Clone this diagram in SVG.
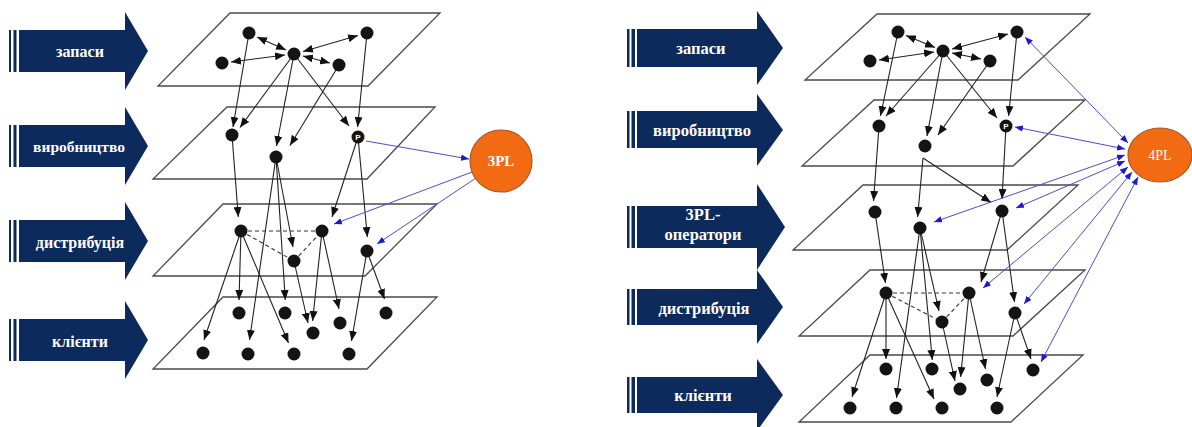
<svg xmlns="http://www.w3.org/2000/svg" width="1192" height="427" viewBox="0 0 1192 427">
<defs>
<marker id="ah" viewBox="0 0 10 8" refX="10" refY="4" markerWidth="10" markerHeight="8" markerUnits="userSpaceOnUse" orient="auto-start-reverse"><path d="M0,0 L10,4 L0,8 z" fill="#111"/></marker>
<marker id="bh" viewBox="0 0 10 8" refX="10" refY="4" markerWidth="8" markerHeight="6.5" markerUnits="userSpaceOnUse" orient="auto-start-reverse"><path d="M0,0 L10,4 L0,8 z" fill="#1a1ad8"/></marker>
<style>
.band{fill:#0c2a5c}
.lbl{font-family:"Liberation Serif","DejaVu Serif",serif;font-weight:bold;fill:#fff;text-anchor:middle;dominant-baseline:central}
.pl{fill:none;stroke:#4a4a4a;stroke-width:1.3}
.c{stroke:#222;stroke-width:1.1;fill:none;marker-end:url(#ah)}
.d{stroke:#222;stroke-width:1.1;fill:none;marker-start:url(#ah);marker-end:url(#ah)}
.ds{stroke:#333;stroke-width:1.1;fill:none;stroke-dasharray:4 3}
.b{stroke:#4b4bd0;stroke-width:1;fill:none;marker-end:url(#bh)}
.bb{stroke:#4b4bd0;stroke-width:1;fill:none;marker-start:url(#bh);marker-end:url(#bh)}
.n{fill:#141414}
.pn{font-family:"Liberation Sans",Arial,sans-serif;font-size:8px;font-weight:bold;fill:#fff;text-anchor:middle;dominant-baseline:central}
.hub{fill:#f26a12;stroke:#a55a2a;stroke-width:1.2}
.hubt{font-family:"Liberation Serif","DejaVu Serif",serif;fill:#fff;text-anchor:middle;dominant-baseline:central}
</style>
</defs>

<!-- LEFT level arrows -->
<g id="L-arrow-zapasy">
<rect class="band" x="9" y="30" width="2" height="42"/><rect class="band" x="13.5" y="30" width="3" height="42"/>
<polygon class="band" points="19,30 125,30 125,12 148,51 125,90 125,72 19,72"/>
<text class="lbl" x="80" y="51" font-size="16">запаси</text>
</g>
<g id="L-arrow-vyrob">
<rect class="band" x="9" y="125" width="2" height="42"/><rect class="band" x="13.5" y="125" width="3" height="42"/>
<polygon class="band" points="19,125 125,125 125,107 148,146 125,185 125,167 19,167"/>
<text class="lbl" x="79" y="146" font-size="15.5">виробництво</text>
</g>
<g id="L-arrow-dystr">
<rect class="band" x="9" y="220" width="2" height="42"/><rect class="band" x="13.5" y="220" width="3" height="42"/>
<polygon class="band" points="19,220 125,220 125,202 148,241 125,280 125,262 19,262"/>
<text class="lbl" x="80" y="242" font-size="16">дистрибуція</text>
</g>
<g id="L-arrow-klienty">
<rect class="band" x="9" y="319" width="2" height="42"/><rect class="band" x="13.5" y="319" width="3" height="42"/>
<polygon class="band" points="19,319 125,319 125,301 148,340 125,379 125,361 19,361"/>
<text class="lbl" x="80" y="341" font-size="16">клієнти</text>
</g>

<!-- LEFT planes -->
<g id="L-planes">
<polygon class="pl" points="230,13 440,13 368,86 158,86"/>
<polygon class="pl" points="227,107 435,107 367,179 153,179"/>
<polygon class="pl" points="223,204 437,204 365,276 153,276"/>
<polygon class="pl" points="223,297 437,297 367,369 153,369"/>
</g>

<!-- RIGHT level arrows -->
<g id="R-arrow-zapasy">
<rect class="band" x="627" y="29" width="2.5" height="38"/><rect class="band" x="631.5" y="29" width="3.5" height="38"/>
<polygon class="band" points="637,29 757,29 757,11 783,48 757,85 757,67 637,67"/>
<text class="lbl" x="701" y="48" font-size="16.5">запаси</text>
</g>
<g id="R-arrow-vyrob">
<rect class="band" x="627" y="111" width="2.5" height="37"/><rect class="band" x="631.5" y="111" width="3.5" height="37"/>
<polygon class="band" points="637,111 757,111 757,94 783,130 757,166 757,148 637,148"/>
<text class="lbl" x="702" y="130" font-size="16.5">виробництво</text>
</g>
<g id="R-arrow-3pl">
<rect class="band" x="627" y="206" width="2.5" height="42"/><rect class="band" x="631.5" y="206" width="3.5" height="42"/>
<polygon class="band" points="637,206 757,206 757,184 785,227 757,270 757,248 637,248"/>
<text class="lbl" x="703" y="214" font-size="16.5">3PL-</text>
<text class="lbl" x="703" y="234" font-size="16.5">оператори</text>
</g>
<g id="R-arrow-dystr">
<rect class="band" x="627" y="289" width="2.5" height="36"/><rect class="band" x="631.5" y="289" width="3.5" height="36"/>
<polygon class="band" points="637,289 757,289 757,270 783,307 757,344 757,325 637,325"/>
<text class="lbl" x="704" y="308" font-size="16.5">дистрибуція</text>
</g>
<g id="R-arrow-klienty">
<rect class="band" x="627" y="377" width="2.5" height="36"/><rect class="band" x="631.5" y="377" width="3.5" height="36"/>
<polygon class="band" points="637,377 757,377 757,359 783,395 757,431 757,413 637,413"/>
<text class="lbl" x="703" y="395" font-size="16.5">клієнти</text>
</g>

<!-- RIGHT planes -->
<g id="R-planes">
<polygon class="pl" points="877,14 1090,14 1018,80 805,80"/>
<polygon class="pl" points="874,100 1085,100 1013,166 802,166"/>
<polygon class="pl" points="863,185 1078,185 1007,250 793,250"/>
<polygon class="pl" points="870,270 1085,270 1013,336 799,336"/>
<polygon class="pl" points="870,355 1083,355 1011,422 799,422"/>
</g>

<!-- connectors -->
<g id="connectors">
<!-- left: stocks -->
<line class="d" x1="257" y1="37" x2="286" y2="50"/>
<line class="d" x1="358" y1="35.5" x2="303" y2="51.5"/>
<line class="d" x1="231" y1="62" x2="285" y2="55"/>
<line class="d" x1="330" y1="63" x2="303" y2="56"/>
<line class="c" x1="249" y1="33" x2="233" y2="127"/>
<line class="c" x1="294" y1="54" x2="240" y2="127.5"/>
<line class="c" x1="294" y1="54" x2="276.5" y2="146"/>
<line class="c" x1="339" y1="65" x2="290" y2="145.5"/>
<line class="c" x1="294" y1="54" x2="349" y2="126"/>
<line class="c" x1="367" y1="33" x2="357.6" y2="127"/>
<!-- left: production to distribution -->
<line class="c" x1="232" y1="135" x2="238.3" y2="217"/>
<line class="c" x1="276" y1="157" x2="293" y2="247"/>
<line class="c" x1="276" y1="157" x2="285.3" y2="300"/>
<line class="c" x1="276" y1="157" x2="249.5" y2="340"/>
<line class="c" x1="358" y1="137" x2="332" y2="217"/>
<line class="c" x1="358" y1="137" x2="367.4" y2="237"/>
<!-- left: distribution -->
<line class="ds" x1="241" y1="231" x2="322" y2="231"/>
<line class="ds" x1="241" y1="231" x2="294" y2="261"/>
<line class="ds" x1="294" y1="261" x2="322" y2="231"/>
<line class="c" x1="241" y1="231" x2="239" y2="300"/>
<line class="c" x1="241" y1="231" x2="204" y2="340"/>
<line class="c" x1="241" y1="231" x2="288.5" y2="343"/>
<line class="c" x1="294" y1="261" x2="308" y2="323"/>
<line class="c" x1="322" y1="231" x2="312.6" y2="321"/>
<line class="c" x1="322" y1="231" x2="339" y2="309"/>
<line class="c" x1="367" y1="251" x2="351.5" y2="341"/>
<line class="c" x1="367" y1="251" x2="384.5" y2="299"/>
<!-- left: 3PL -->
<line class="b" x1="366" y1="141" x2="469" y2="159"/>
<line class="b" x1="472" y1="172" x2="334" y2="224"/>
<line class="b" x1="476" y1="178" x2="377" y2="244"/>

<!-- right: stocks -->
<line class="d" x1="906" y1="35.5" x2="935" y2="47.5"/>
<line class="d" x1="1008" y1="34" x2="952" y2="49"/>
<line class="d" x1="879" y1="60" x2="934" y2="52"/>
<line class="d" x1="981" y1="59" x2="952" y2="53"/>
<line class="c" x1="898" y1="32" x2="880.5" y2="116"/>
<line class="c" x1="943" y1="51" x2="886" y2="116"/>
<line class="c" x1="943" y1="51" x2="927" y2="136"/>
<line class="c" x1="990" y1="61" x2="938" y2="135"/>
<line class="c" x1="943" y1="51" x2="997" y2="118"/>
<line class="c" x1="1017" y1="32" x2="1008.6" y2="116"/>
<!-- right: production to 3PL operators -->
<line class="c" x1="879" y1="126" x2="873.5" y2="201"/>
<line class="c" x1="923" y1="158" x2="917.6" y2="217"/>
<line class="c" x1="923" y1="158" x2="991" y2="202.5"/>
<line class="c" x1="1006" y1="126" x2="1002" y2="199"/>
<!-- right: operators to distribution / clients -->
<line class="c" x1="875" y1="212" x2="885.5" y2="283"/>
<line class="c" x1="920" y1="228" x2="939" y2="311"/>
<line class="c" x1="920" y1="228" x2="932.3" y2="360"/>
<line class="c" x1="920" y1="228" x2="896.5" y2="398"/>
<line class="c" x1="1002" y1="211" x2="981" y2="282"/>
<line class="c" x1="1002" y1="211" x2="1014.5" y2="302"/>
<!-- right: distribution -->
<line class="ds" x1="886" y1="293" x2="969" y2="293"/>
<line class="ds" x1="886" y1="293" x2="942" y2="322"/>
<line class="ds" x1="942" y1="322" x2="969" y2="293"/>
<line class="c" x1="886" y1="293" x2="886" y2="359"/>
<line class="c" x1="886" y1="293" x2="852" y2="397"/>
<line class="c" x1="886" y1="293" x2="934" y2="399"/>
<line class="c" x1="942" y1="322" x2="955" y2="381"/>
<line class="c" x1="969" y1="293" x2="960.6" y2="377"/>
<line class="c" x1="969" y1="293" x2="985.5" y2="369"/>
<line class="c" x1="1015" y1="313" x2="997" y2="397"/>
<line class="c" x1="1015" y1="313" x2="1031" y2="359"/>
<!-- right: 4PL -->
<line class="bb" x1="1025" y1="37" x2="1128" y2="143"/>
<line class="bb" x1="1015" y1="127" x2="1125" y2="149"/>
<line class="bb" x1="934" y1="222" x2="1125" y2="155"/>
<line class="bb" x1="1016" y1="208" x2="1125" y2="161"/>
<line class="bb" x1="983" y1="288" x2="1128" y2="167"/>
<line class="bb" x1="1024" y1="304" x2="1132" y2="172"/>
<line class="bb" x1="1041" y1="362" x2="1138" y2="177"/>
</g>

<!-- LEFT nodes -->
<g id="L-stock-nodes">
<circle class="n" cx="249" cy="33" r="6.5"/><circle class="n" cx="367" cy="33" r="6.5"/>
<circle class="n" cx="294" cy="54" r="6.5"/><circle class="n" cx="222" cy="63" r="6.5"/>
<circle class="n" cx="339" cy="65" r="6.5"/>
</g>
<g id="L-prod-nodes">
<circle class="n" cx="232" cy="135" r="6.5"/><circle class="n" cx="276" cy="157" r="6.5"/>
<circle class="n" cx="358" cy="137" r="6.5"/><text class="pn" x="358" y="137.5">P</text>
</g>
<g id="L-distr-nodes">
<circle class="n" cx="241" cy="231" r="6.5"/><circle class="n" cx="322" cy="231" r="6.5"/>
<circle class="n" cx="294" cy="261" r="6.5"/><circle class="n" cx="367" cy="251" r="6.5"/>
</g>
<g id="L-client-nodes">
<circle class="n" cx="239" cy="313" r="6.5"/><circle class="n" cx="285" cy="313" r="6.5"/>
<circle class="n" cx="313" cy="333" r="6.5"/><circle class="n" cx="340" cy="323" r="6.5"/>
<circle class="n" cx="386" cy="313" r="6.5"/><circle class="n" cx="203" cy="353" r="6.5"/>
<circle class="n" cx="248" cy="354" r="6.5"/><circle class="n" cx="294" cy="354" r="6.5"/>
<circle class="n" cx="349" cy="354" r="6.5"/>
</g>
<g id="L-3PL">
<circle class="hub" cx="501" cy="161" r="31"/>
<text class="hubt" x="501" y="161" font-size="15" font-weight="bold">3PL</text>
</g>

<!-- RIGHT nodes -->
<g id="R-stock-nodes">
<circle class="n" cx="898" cy="32" r="6.5"/><circle class="n" cx="1017" cy="32" r="6.5"/>
<circle class="n" cx="943" cy="51" r="6.5"/><circle class="n" cx="870" cy="61" r="6.5"/>
<circle class="n" cx="990" cy="61" r="6.5"/>
</g>
<g id="R-prod-nodes">
<circle class="n" cx="879" cy="126" r="6.5"/><circle class="n" cx="925" cy="146" r="6.5"/>
<circle class="n" cx="1006" cy="126" r="6.5"/><text class="pn" x="1006" y="126.5">P</text>
</g>
<g id="R-3pl-nodes">
<circle class="n" cx="875" cy="212" r="6.5"/><circle class="n" cx="920" cy="228" r="6.5"/>
<circle class="n" cx="1002" cy="211" r="6.5"/>
</g>
<g id="R-distr-nodes">
<circle class="n" cx="886" cy="293" r="6.5"/><circle class="n" cx="969" cy="293" r="6.5"/>
<circle class="n" cx="942" cy="322" r="6.5"/><circle class="n" cx="1015" cy="313" r="6.5"/>
</g>
<g id="R-client-nodes">
<circle class="n" cx="886" cy="369" r="6.5"/><circle class="n" cx="932" cy="369" r="6.5"/>
<circle class="n" cx="960" cy="389" r="6.5"/><circle class="n" cx="987" cy="380" r="6.5"/>
<circle class="n" cx="1033" cy="370" r="6.5"/><circle class="n" cx="850" cy="408" r="6.5"/>
<circle class="n" cx="896" cy="408" r="6.5"/><circle class="n" cx="942" cy="408" r="6.5"/>
<circle class="n" cx="997" cy="408" r="6.5"/>
</g>
<g id="R-4PL">
<ellipse class="hub" cx="1160" cy="155" rx="32" ry="27"/>
<text class="hubt" x="1160" y="155" font-size="14">4PL</text>
</g>
</svg>
